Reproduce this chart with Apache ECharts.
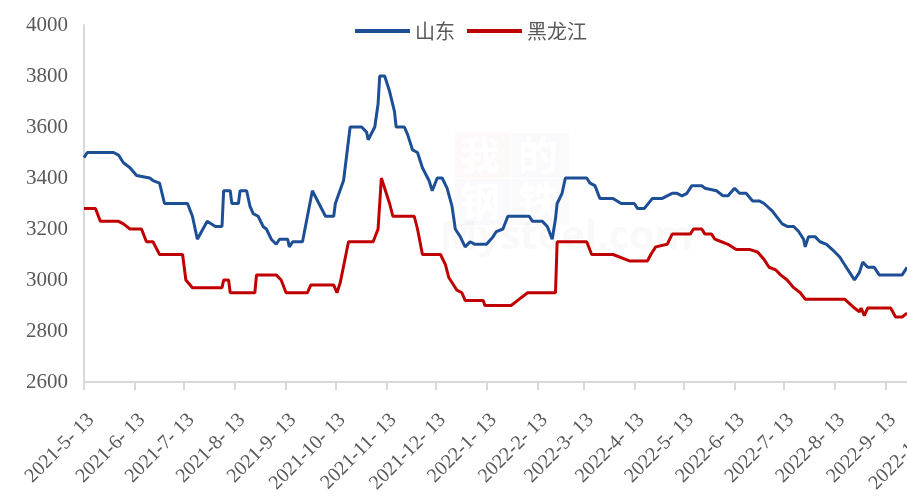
<!DOCTYPE html>
<html>
<head>
<meta charset="utf-8">
<script src="https://cdn.jsdelivr.net/npm/echarts@6/dist/echarts.min.js"></script>
<style>
html,body{margin:0;padding:0;background:#fff;}
#chart{width:907px;height:497px;}
</style>
</head>
<body>
<div id="chart"></div>
<script>
// Series names
const seriesNames = ['山东', '黑龙江'];

// 山东 (dates and prices)
const shandongDates = [
'2021-05-13','2021-05-15','2021-05-31','2021-06-03','2021-06-06','2021-06-10','2021-06-14','2021-06-22','2021-06-24','2021-06-28',
'2021-07-01','2021-07-15','2021-07-18','2021-07-21','2021-07-27','2021-08-01','2021-08-05','2021-08-06','2021-08-10','2021-08-11',
'2021-08-15','2021-08-16','2021-08-20','2021-08-22','2021-08-24','2021-08-27','2021-08-30','2021-09-01','2021-09-04','2021-09-07',
'2021-09-09','2021-09-14','2021-09-15','2021-09-17','2021-09-23','2021-09-29','2021-10-07','2021-10-12','2021-10-13','2021-10-18',
'2021-10-22','2021-10-29','2021-11-01','2021-11-02','2021-11-06','2021-11-08','2021-11-09','2021-11-12','2021-11-15','2021-11-18',
'2021-11-19','2021-11-24','2021-11-26','2021-11-29','2021-12-02','2021-12-05','2021-12-09','2021-12-11','2021-12-14','2021-12-17',
'2021-12-20','2021-12-23','2021-12-25','2021-12-28','2021-12-31','2022-01-03','2022-01-06','2022-01-13','2022-01-17','2022-01-19',
'2022-01-23','2022-01-26','2022-02-08','2022-02-10','2022-02-16','2022-02-19','2022-02-22','2022-02-24','2022-02-25','2022-02-28',
'2022-03-02','2022-03-15','2022-03-17','2022-03-20','2022-03-23','2022-03-31','2022-04-05','2022-04-13','2022-04-15','2022-04-19',
'2022-04-24','2022-04-30','2022-05-06','2022-05-09','2022-05-12','2022-05-15','2022-05-18','2022-05-24','2022-05-26','2022-06-02',
'2022-06-06','2022-06-09','2022-06-13','2022-06-16','2022-06-20','2022-06-24','2022-06-28','2022-07-01','2022-07-06','2022-07-12',
'2022-07-15','2022-07-19','2022-07-22','2022-07-25','2022-07-26','2022-07-28','2022-08-01','2022-08-04','2022-08-08','2022-08-13',
'2022-08-16','2022-08-19','2022-08-22','2022-08-25','2022-08-28','2022-08-30','2022-09-02','2022-09-06','2022-09-09','2022-09-23',
'2022-09-26'];
const shandongValues = [
3480,3500,3500,3490,3460,3440,3410,3400,3390,3380,
3300,3300,3250,3160,3230,3210,3210,3350,3350,3300,
3300,3350,3350,3290,3260,3250,3210,3200,3160,3140,
3160,3160,3130,3150,3150,3350,3250,3250,3300,3390,
3600,3600,3580,3550,3600,3690,3800,3800,3740,3660,
3600,3600,3570,3510,3500,3440,3390,3350,3400,3400,
3360,3290,3200,3170,3130,3150,3140,3140,3170,3190,
3200,3250,3250,3230,3230,3210,3160,3240,3300,3340,
3400,3400,3380,3370,3320,3320,3300,3300,3280,3280,
3320,3320,3340,3340,3330,3340,3370,3370,3360,3350,
3330,3330,3360,3340,3340,3310,3310,3300,3270,3220,
3210,3210,3190,3160,3130,3170,3170,3150,3140,3110,
3090,3060,3030,3000,3030,3070,3050,3050,3020,3020,
3050];

// 黑龙江 (dates and prices)
const hljDates = [
'2021-05-13','2021-05-20','2021-05-23','2021-06-03','2021-06-06','2021-06-10','2021-06-17','2021-06-20','2021-06-24','2021-06-28',
'2021-07-12','2021-07-14','2021-07-18','2021-08-05','2021-08-06','2021-08-09','2021-08-10','2021-08-25','2021-08-26','2021-09-07',
'2021-09-10','2021-09-13','2021-09-26','2021-09-28','2021-10-12','2021-10-14','2021-10-16','2021-10-21','2021-11-05','2021-11-08',
'2021-11-10','2021-11-13','2021-11-15','2021-11-17','2021-11-30','2021-12-02','2021-12-05','2021-12-16','2021-12-19','2021-12-21',
'2021-12-23','2021-12-26','2021-12-29','2021-12-31','2022-01-11','2022-01-12','2022-01-28','2022-02-01','2022-02-07','2022-02-24',
'2022-02-25','2022-03-15','2022-03-18','2022-03-31','2022-04-10','2022-04-21','2022-04-23','2022-04-26','2022-05-03','2022-05-06',
'2022-05-17','2022-05-19','2022-05-24','2022-05-26','2022-05-30','2022-06-01','2022-06-05','2022-06-09','2022-06-14','2022-06-22',
'2022-06-27','2022-07-01','2022-07-04','2022-07-08','2022-07-11','2022-07-15','2022-07-19','2022-07-23','2022-07-26','2022-08-19',
'2022-08-25','2022-08-28','2022-08-29','2022-08-31','2022-09-02','2022-09-16','2022-09-19','2022-09-23','2022-09-26'];
const hljValues = [
3280,3280,3230,3230,3220,3200,3200,3150,3150,3100,
3100,3000,2970,2970,3000,3000,2950,2950,3020,3020,
3000,2950,2950,2980,2980,2950,2990,3150,3150,3200,
3400,3340,3300,3250,3250,3200,3100,3100,3060,3010,
2990,2960,2950,2920,2920,2900,2900,2920,2950,2950,
3150,3150,3100,3100,3075,3075,3100,3130,3140,3180,
3180,3200,3200,3180,3180,3160,3150,3140,3120,3120,
3110,3080,3050,3040,3020,3000,2970,2950,2925,2925,
2890,2875,2890,2860,2890,2890,2855,2855,2870];

// X-axis tick dates (13th of each month)
const tickDates = ['2021-05-13','2021-06-13','2021-07-13','2021-08-13','2021-09-13','2021-10-13','2021-11-13','2021-12-13',
'2022-01-13','2022-02-13','2022-03-13','2022-04-13','2022-05-13','2022-06-13','2022-07-13','2022-08-13','2022-09-13','2022-10-13'];

// Y-axis range
const yMin = 2600, yMax = 4000, yStep = 200;

function ts(s){ const p = s.split('-').map(Number); return Date.UTC(p[0], p[1]-1, p[2]); }
function pairs(ds, vs){ return ds.map((d,i)=>[ts(d), vs[i]]); }
function fmt(v){ const d = new Date(v); return d.getUTCFullYear() + '-' + (d.getUTCMonth()+1) + '- ' + d.getUTCDate(); }

const tickTs = tickDates.map(ts);
const chart = echarts.init(document.getElementById('chart'), null, {renderer:'canvas'});
const serif = '"Liberation Serif","Times New Roman",serif';
const axisGray = '#d9d9d9';

chart.setOption({
  animation: false,
  backgroundColor: '#ffffff',
  graphic: [
    {type:'rect', left:455, top:133, shape:{width:55, height:45}, style:{fill:'rgba(230,80,80,0.035)'}, z:0, silent:true},
    {type:'rect', left:511, top:133, shape:{width:58, height:45}, style:{fill:'rgba(80,110,170,0.03)'}, z:0, silent:true},
    {type:'rect', left:455, top:179, shape:{width:55, height:46}, style:{fill:'rgba(80,110,170,0.03)'}, z:0, silent:true},
    {type:'rect', left:511, top:179, shape:{width:58, height:46}, style:{fill:'rgba(80,110,170,0.03)'}, z:0, silent:true},
    {type:'text', left:460, top:135, style:{text:'我', fill:'#ffffff', font:'bold 40px "Noto Sans CJK SC"'}, z:1, silent:true},
    {type:'text', left:518, top:135, style:{text:'的', fill:'#ffffff', font:'bold 40px "Noto Sans CJK SC"'}, z:1, silent:true},
    {type:'text', left:460, top:181, style:{text:'钢', fill:'#ffffff', font:'bold 40px "Noto Sans CJK SC"'}, z:1, silent:true},
    {type:'text', left:518, top:181, style:{text:'铁', fill:'#ffffff', font:'bold 40px "Noto Sans CJK SC"'}, z:1, silent:true},
    {type:'text', left:440, top:218, style:{text:'Mysteel.com', fill:'rgba(200,200,200,0.1)', font:'bold 40px "Open Sans"'}, z:1, silent:true}
  ],
  legend: {
    data: seriesNames.map(n => ({name: n, icon: 'rect'})),
    left: 350,
    top: 16,
    itemWidth: 55,
    itemHeight: 4,
    itemGap: 12,
    textStyle: {fontSize: 20, color: '#595959', fontFamily: '"Noto Sans CJK SC"'}
  },
  grid: {left: 84, right: -28, top: 25, bottom: 115, containLabel: false, outerBoundsMode: 'none'},
  xAxis: {
    type: 'value',
    min: tickTs[0],
    max: tickTs[tickTs.length-1],
    splitLine: {show:false},
    axisLine: {show:true, lineStyle:{color: axisGray, width:2}},
    axisTick: {show:true, length:8, customValues: tickTs, lineStyle:{color: axisGray, width:2}},
    axisLabel: {
      customValues: tickTs,
      formatter: fmt,
      rotate: 45,
      margin: 28,
      verticalAlign: 'top',
      fontSize: 20,
      color: '#595959',
      fontFamily: serif
    }
  },
  yAxis: {
    type: 'value',
    min: yMin, max: yMax, interval: yStep,
    splitLine: {show:false},
    axisLine: {show:true, lineStyle:{color: axisGray, width:2}},
    axisTick: {show:false},
    axisLabel: {fontSize: 21, color: '#595959', fontFamily: serif, margin: 16, formatter: v => String(v)}
  },
  series: [
    {name: seriesNames[0], type:'line', data: pairs(shandongDates, shandongValues), symbol:'none',
     lineStyle:{color:'#1c4f96', width:3}, itemStyle:{color:'#1c4f96'}, z:3},
    {name: seriesNames[1], type:'line', data: pairs(hljDates, hljValues), symbol:'none',
     lineStyle:{color:'#c00000', width:3}, itemStyle:{color:'#c00000'}, z:3}
  ]
});
</script>
</body>
</html>
